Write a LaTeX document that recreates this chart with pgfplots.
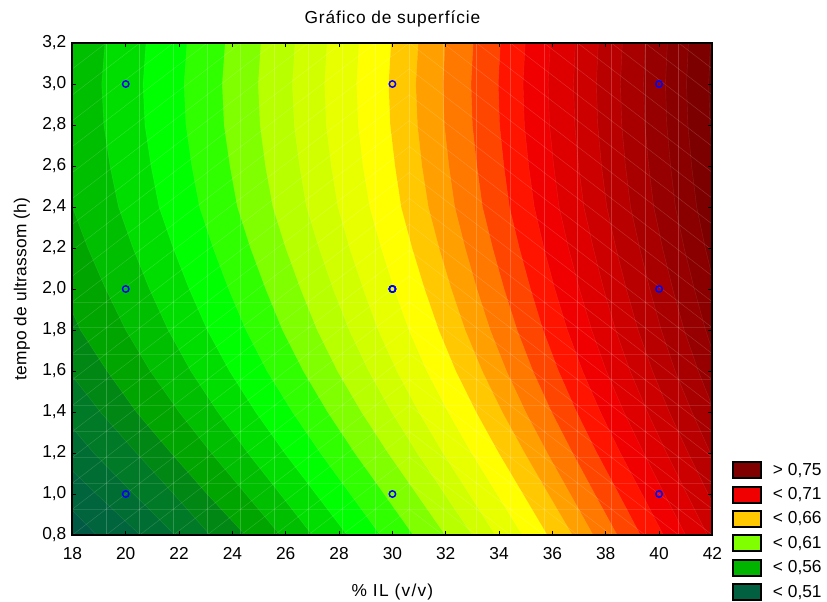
\documentclass[border=0pt]{standalone}
\usepackage{fontspec}
\setmainfont{Liberation Sans}
\usepackage{pgfplots}
\usepackage{pgfplotstable}
\pgfplotsset{compat=1.18}

% contour lines: x position at each y level, first two rows close the polygon on the right
\pgfplotstableread{
y   a5   a4   a3   a2   a1   a0    t1    t2    t3    t4    t5    t6    t7    t8    t9    t10   t11   t12   t13   t14   t15   t16   t17   t18   t19   t20   t21   t22
0.8 48   48   48   48   48   48    48    48    48    48    48    48    48    48    48    48    48    48    48    48    48    48    48    48    48    48    48    48
3.2 48   48   48   48   48   48    48    48    48    48    48    48    48    48    48    48    48    48    48    48    48    48    48    48    48    48    48    48
3.2 15   15   15   15   16   17.46 19.22 20.76 22.30 23.73 25.07 26.35 27.55 28.75 29.95 30.97 31.98 33.03 34.05 34.98 35.92 36.86 37.72 38.62 39.49 40.31 41.10 41.93
3.0 15   15   15   15   16   17.34 19.10 20.65 22.19 23.62 24.97 26.25 27.46 28.66 29.86 30.88 31.90 32.95 33.97 34.90 35.84 36.79 37.65 38.55 39.42 40.24 41.03 41.86
2.8 15   15   15   15   16   17.42 19.18 20.72 22.26 23.69 25.04 26.32 27.52 28.72 29.92 30.94 31.95 33.00 34.02 34.95 35.89 36.84 37.70 38.60 39.47 40.29 41.08 41.91
2.6 15   15   15   15   16   17.67 19.41 20.95 22.48 23.91 25.24 26.52 27.71 28.90 30.10 31.11 32.12 33.17 34.18 35.11 36.05 36.98 37.84 38.74 39.61 40.43 41.22 42.05
2.4 15   15   15   15   16   18.00 19.73 21.25 22.77 24.19 25.52 26.78 27.96 29.15 30.33 31.35 32.34 33.38 34.39 35.32 36.25 37.18 38.04 38.93 39.80 40.61 41.41 42.23
2.2 15   15   15   15   16.8 18.58 20.27 21.78 23.28 24.68 26.00 27.25 28.40 29.58 30.74 31.75 32.73 33.76 34.76 35.68 36.60 37.53 38.38 39.27 40.13 40.94 41.73 42.55
2.0 15   15   15   15.8 17.6 19.25 20.89 22.38 23.86 25.25 26.56 27.78 28.91 30.07 31.21 32.21 33.17 34.19 35.18 36.09 37.01 37.92 38.77 39.65 40.51 41.32 42.11 42.90
1.8 15   15   15   16.8 18.3 20.00 21.59 23.06 24.51 25.88 27.18 28.38 29.47 30.62 31.74 32.73 33.67 34.68 35.65 36.56 37.47 38.37 39.21 40.08 40.94 41.74 42.53 43.30
1.6 15   15   16.3 17.85 19.3 20.92 22.44 23.89 25.30 26.66 27.94 29.11 30.17 31.29 32.38 33.37 34.28 35.27 36.23 37.13 38.02 38.91 39.75 40.60 41.47 42.26 43.05 43.80
1.4 15   15.9 17.5 19.05 20.4 22.00 23.45 24.87 26.25 27.57 28.84 29.97 30.99 32.09 33.14 34.12 35.00 35.97 36.91 37.80 38.68 39.56 40.38 41.23 42.08 42.87 43.66 44.40
1.2 15.5 17.3 18.8 20.4 21.7 23.21 24.58 25.96 27.30 28.59 29.84 30.93 31.90 32.97 33.99 34.96 35.81 36.76 37.67 38.55 39.42 40.28 41.09 41.92 42.77 43.55 44.34 45.10
1.0 17.4 18.9 20.3 21.8 23.05 24.50 25.79 27.13 28.42 29.69 30.91 31.96 32.88 33.92 34.90 35.85 36.67 37.59 38.49 39.36 40.20 41.04 41.84 42.66 43.51 44.27 45.07 45.80
0.8 18.9 20.54 21.85 23.16 24.48 25.79 26.99 28.30 29.54 30.78 31.98 32.99 33.86 34.87 35.81 36.75 37.53 38.43 39.30 40.16 40.99 41.81 42.60 43.40 44.25 45.00 45.80 46.50
}\contours

\newcommand{\band}[2]{\addplot[forget plot, fill={rgb,255:#2}, draw=white, draw opacity=0.1, line width=0.3pt] table[x=#1,y=y] {\contours};}
\newcommand{\labelfont}{\fontsize{13pt}{15pt}\selectfont}

\begin{document}
\begin{tikzpicture}
\useasboundingbox (0,0) rectangle (620.25pt,450.75pt);
\begin{axis}[
    at={(54.3pt,49.5pt)}, anchor=south west,
    scale only axis, width=480pt, height=369pt,
    xmin=18, xmax=42, ymin=0.8, ymax=3.2,
    xtick={18,20,...,42},
    ytick={0.8,1.0,1.2,1.4,1.6,1.8,2.0,2.2,2.4,2.6,2.8,3.0,3.2},
    tick align=inside,
    major tick length=3pt,
    tick style={black, line width=0.75pt},
    axis line style={line width=1.4pt},
    axis on top,
    axis background/.style={fill={rgb,255:red,0;green,90;blue,68}},
    tick label style={font=\labelfont},
    y tick label style={xshift=-1pt, /pgf/number format/.cd, fixed, fixed zerofill, precision=1, use comma, assume math mode=true},
    x tick label style={yshift=-6pt, /pgf/number format/assume math mode=true},
    title={\addfontfeatures{LetterSpace=5}Gráfico de superfície},
    title style={at={(axis description cs:0.5,1.049)}, anchor=center, yshift=-6pt, font=\labelfont},
    xlabel={\addfontfeatures{LetterSpace=7}\% IL (v/v)},
    xlabel style={at={(axis description cs:0.5,-0.116)}, anchor=center, font=\labelfont},
    ylabel={\addfontfeatures{LetterSpace=1.5}tempo de ultrassom (h)},
    ylabel style={at={(axis description cs:-0.079,0.5)}, anchor=center, font=\labelfont},
    legend image code/.code={\draw[#1, draw=black, line width=1.5pt] (0pt,-6pt) rectangle (21.5pt,6pt);},
    legend style={at={(1.03,0.008)}, anchor=west, draw=none, fill=none, inner sep=0pt, outer sep=0pt,
        row sep=3.7pt, font=\labelfont, /tikz/every odd column/.append style={column sep=6pt}},
    legend cell align=left,
    unbounded coords=jump,
]
\band{a5}{red,0;green,100;blue,60}
\band{a4}{red,0;green,110;blue,50}
\band{a3}{red,0;green,122;blue,38}
\band{a2}{red,0;green,135;blue,20}
\band{a1}{red,0;green,165;blue,0}
\band{a0}{red,0;green,190;blue,0}
\band{t1}{red,0;green,222;blue,0}
\band{t2}{red,0;green,255;blue,0}
\band{t3}{red,48;green,255;blue,0}
\band{t4}{red,128;green,255;blue,0}
\band{t5}{red,184;green,255;blue,0}
\band{t6}{red,210;green,255;blue,0}
\band{t7}{red,232;green,255;blue,0}
\band{t8}{red,255;green,255;blue,0}
\band{t9}{red,255;green,200;blue,0}
\band{t10}{red,255;green,160;blue,0}
\band{t11}{red,255;green,120;blue,0}
\band{t12}{red,255;green,70;blue,0}
\band{t13}{red,255;green,20;blue,0}
\band{t14}{red,240;green,0;blue,0}
\band{t15}{red,222;green,0;blue,0}
\band{t16}{red,205;green,0;blue,0}
\band{t17}{red,185;green,0;blue,0}
\band{t18}{red,168;green,0;blue,0}
\band{t19}{red,150;green,0;blue,0}
\band{t20}{red,138;green,0;blue,0}
\band{t21}{red,125;green,0;blue,0}
\band{t22}{red,115;green,0;blue,0}

% light seams of the triangle mesh
\addplot[forget plot, white, opacity=0.2, line width=0.5pt] coordinates {
 (19.263,0.8)(19.263,3.2)(nan,nan)(20.526,0.8)(20.526,3.2)(nan,nan)(21.789,0.8)(21.789,3.2)(nan,nan)
 (23.053,0.8)(23.053,3.2)(nan,nan)(24.316,0.8)(24.316,3.2)(nan,nan)(25.579,0.8)(25.579,3.2)(nan,nan)
 (26.842,0.8)(26.842,3.2)(nan,nan)(28.105,0.8)(28.105,3.2)(nan,nan)(29.368,0.8)(29.368,3.2)(nan,nan)
 (30.632,0.8)(30.632,3.2)(nan,nan)(31.895,0.8)(31.895,3.2)(nan,nan)(33.158,0.8)(33.158,3.2)(nan,nan)
 (34.421,0.8)(34.421,3.2)(nan,nan)(35.684,0.8)(35.684,3.2)(nan,nan)(36.947,0.8)(36.947,3.2)(nan,nan)
 (38.211,0.8)(38.211,3.2)(nan,nan)(39.474,0.8)(39.474,3.2)(nan,nan)(40.737,0.8)(40.737,3.2)
};
\addplot[forget plot, white, opacity=0.12, line width=0.4pt] coordinates {
 (18,0.926)(42,0.926)(nan,nan)(18,1.053)(42,1.053)(nan,nan)(18,1.179)(42,1.179)(nan,nan)
 (18,1.305)(42,1.305)(nan,nan)(18,1.432)(42,1.432)(nan,nan)(18,1.558)(42,1.558)(nan,nan)
 (18,1.684)(42,1.684)(nan,nan)(18,1.811)(42,1.811)(nan,nan)(18,1.937)(42,1.937)
};
\addplot[forget plot, white, opacity=0.17, line width=0.35pt] coordinates {
 (18,0.8)(30.632,2.063)(nan,nan)(18,0.926)(30.632,2.189)(nan,nan)(18,1.053)(30.632,2.316)(nan,nan)
 (18,1.179)(30.632,2.442)(nan,nan)(18,1.305)(30.632,2.568)(nan,nan)(18,1.432)(30.632,2.695)(nan,nan)
 (18,1.558)(30.632,2.821)(nan,nan)(18,1.684)(30.632,2.947)(nan,nan)(18,1.811)(30.632,3.074)(nan,nan)
 (18,1.937)(30.632,3.2)(nan,nan)(18,2.063)(29.368,3.2)(nan,nan)(18,2.189)(28.105,3.2)(nan,nan)
 (18,2.316)(26.842,3.2)(nan,nan)(18,2.442)(25.579,3.2)(nan,nan)(18,2.568)(24.316,3.2)(nan,nan)
 (18,2.695)(23.053,3.2)(nan,nan)(18,2.821)(21.789,3.2)(nan,nan)(18,2.947)(20.526,3.2)(nan,nan)
 (18,3.074)(19.263,3.2)(nan,nan)(19.263,0.8)(30.632,1.937)(nan,nan)(20.526,0.8)(30.632,1.811)(nan,nan)
 (21.789,0.8)(30.632,1.684)(nan,nan)(23.053,0.8)(30.632,1.558)(nan,nan)(24.316,0.8)(30.632,1.432)(nan,nan)
 (25.579,0.8)(30.632,1.305)(nan,nan)(26.842,0.8)(30.632,1.179)(nan,nan)(28.105,0.8)(30.632,1.053)(nan,nan)
 (29.368,0.8)(30.632,0.926)
};
\addplot[forget plot, white, opacity=0.17, line width=0.35pt] coordinates {
 (30.632,0.926)(31.895,0.8)(nan,nan)(30.632,1.053)(33.158,0.8)(nan,nan)(30.632,1.179)(34.421,0.8)(nan,nan)
 (30.632,1.305)(35.684,0.8)(nan,nan)(30.632,1.432)(36.947,0.8)(nan,nan)(30.632,1.558)(38.211,0.8)(nan,nan)
 (30.632,1.684)(39.474,0.8)(nan,nan)(30.632,1.811)(40.737,0.8)(nan,nan)(30.632,1.937)(42,0.8)(nan,nan)
 (30.632,2.063)(42,0.926)(nan,nan)(30.632,2.189)(42,1.053)(nan,nan)(30.632,2.316)(42,1.179)(nan,nan)
 (30.632,2.442)(42,1.305)(nan,nan)(30.632,2.568)(42,1.432)(nan,nan)(30.632,2.695)(42,1.558)(nan,nan)
 (30.632,2.821)(42,1.684)(nan,nan)(30.632,2.947)(42,1.811)(nan,nan)(30.632,3.074)(42,1.937)(nan,nan)
 (30.632,3.2)(42,2.063)(nan,nan)(31.895,3.2)(42,2.189)(nan,nan)(33.158,3.2)(42,2.316)(nan,nan)
 (34.421,3.2)(42,2.442)(nan,nan)(35.684,3.2)(42,2.568)(nan,nan)(36.947,3.2)(42,2.695)(nan,nan)
 (38.211,3.2)(42,2.821)(nan,nan)(39.474,3.2)(42,2.947)(nan,nan)(40.737,3.2)(42,3.074)
};

% design points, the centre one was run several times
\addplot[forget plot, only marks, mark=o, mark size=2.4pt, mark options={blue, line width=1.1pt}] coordinates {
 (20,1.0)(20,2.0)(20,3.0)(30,1.0)(30,2.0)(30,2.0)(30,2.0)(30,3.0)(40,1.0)(40,2.0)(40,3.0)
};

\addlegendimage{fill={rgb,255:red,128;green,0;blue,0}}
\addlegendentry{> 0,75}
\addlegendimage{fill={rgb,255:red,240;green,0;blue,0}}
\addlegendentry{< 0,71}
\addlegendimage{fill={rgb,255:red,255;green,200;blue,0}}
\addlegendentry{< 0,66}
\addlegendimage{fill={rgb,255:red,128;green,255;blue,0}}
\addlegendentry{< 0,61}
\addlegendimage{fill={rgb,255:red,0;green,180;blue,0}}
\addlegendentry{< 0,56}
\addlegendimage{fill={rgb,255:red,0;green,96;blue,64}}
\addlegendentry{< 0,51}
\end{axis}
\end{tikzpicture}
\end{document}
